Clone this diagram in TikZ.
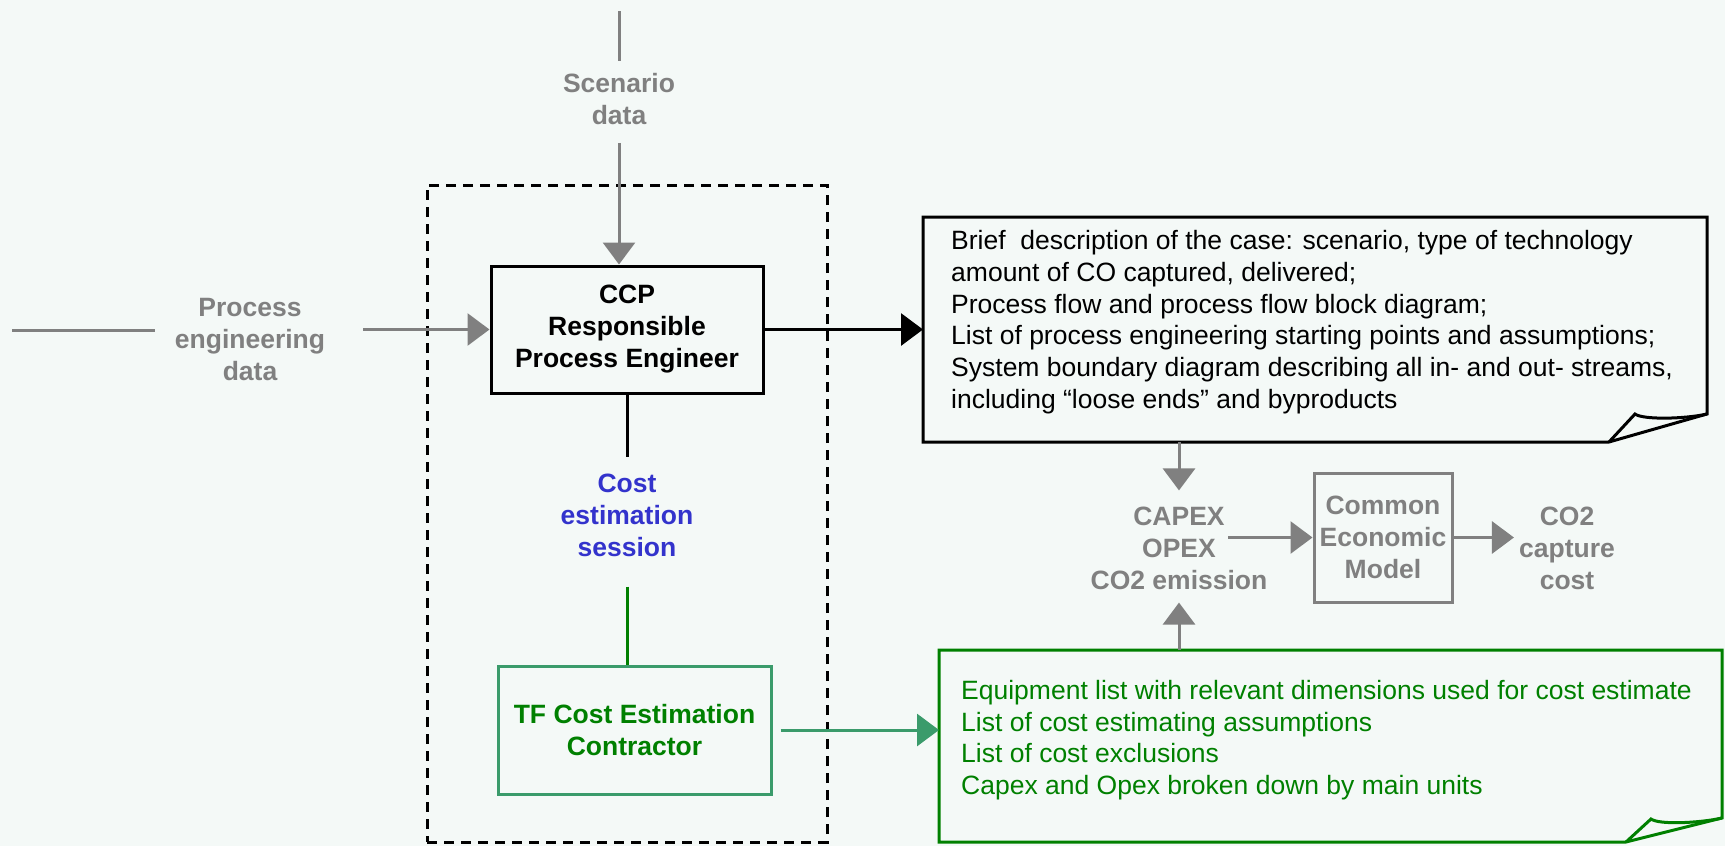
\documentclass[tikz,border=0pt]{standalone}
\usepackage{fontspec}
\setmainfont{Liberation Sans}
\usetikzlibrary{arrows.meta,calc}

\definecolor{bgmint}{HTML}{F4F9F7}
\definecolor{flowgray}{HTML}{808080}
\definecolor{sessionblue}{HTML}{3333CC}
\definecolor{darkgreen}{HTML}{008000}
\definecolor{seagreen}{HTML}{3A9B6B}

\begin{document}
\begin{tikzpicture}[x=1pt,y=-1pt,
  lbl/.style={font=\fontsize{26.5}{32}\selectfont\bfseries, align=center, inner sep=0pt},
  graylbl/.style={lbl, text=flowgray},
  blockbox/.style={lbl, draw, line width=3pt},
  grayline/.style={draw=flowgray, line width=3pt},
  tip/.style={-{Triangle[length=22pt,width=32pt]}},
  grayarrow/.style={grayline, tip},
  blackline/.style={draw=black, line width=3pt},
  greenline/.style={draw=darkgreen, line width=3pt},
  greenarrow/.style={draw=seagreen, line width=3pt, tip},
  noteframe/.style={draw=none, inner sep=0pt, outer sep=0pt},
  noteline/.style={line width=3pt, line join=miter},
  notetext/.style={font=\fontsize{26.5}{31.7}\selectfont, align=left, inner sep=0pt, anchor=west},
]
% canvas
\path[use as bounding box, fill=bgmint] (0,0) rectangle (1725,846);

% team frame
\node[draw, line width=3pt, dash pattern=on 10pt off 7pt, minimum width=400, minimum height=657, inner sep=0pt] (team) at (627,513.5) {};

% main blocks
\node[blockbox, minimum width=272, minimum height=127] (ccp) at (627,329.5) {CCP\\Responsible\\Process Engineer};
\node[blockbox, draw=seagreen, text=darkgreen, minimum width=273, minimum height=128] (tf) at (634.5,730) {TF Cost Estimation\\Contractor};
\node[blockbox, draw=flowgray, text=flowgray, minimum width=138, minimum height=129] (cem) at (1383,537.5) {Common\\Economic\\Model};

% free labels
\node[graylbl] (scen) at (619,99) {Scenario\\data};
\node[graylbl] (ped) at (250,340) {Process\\engineering\\data};
\node[lbl, text=sessionblue] (sess) at (627,515) {Cost\\estimation\\session};
\node[graylbl] (capex) at (1179,548) {CAPEX\\OPEX\\CO2 emission};
\node[graylbl] (co2) at (1567,548) {CO2\\capture\\cost};

% deliverable notes
\node[noteframe, minimum width=784, minimum height=225] (n1) at (1315,329.5) {};
\draw[noteline] (n1.north west) -- (n1.north east) -- ($(n1.south east)+(0,-28)$) coordinate (n1r)
  -- ($(n1.south east)+(-98,0)$) coordinate (n1b) -- (n1.south west) -- cycle;
\draw[noteline] (n1b) -- ($(n1.south east)+(-72,-28)$) coordinate (n1t)
  .. controls ($(n1t)+(8,6)$) and ($(n1r)+(-22,5)$) .. (n1r);
\node[notetext] (n1text) at (951,322) {Brief\ \ description of the case: scenario, type of technology\\
amount of CO captured, delivered;\\
Process flow and process flow block diagram;\\
List of process engineering starting points and assumptions;\\
System boundary diagram describing all in- and out- streams,\\
including “loose ends” and byproducts};

\node[noteframe, minimum width=783, minimum height=192] (n2) at (1330.5,746) {};
\draw[noteline, darkgreen] (n2.north west) -- (n2.north east) -- ($(n2.south east)+(0,-24)$) coordinate (n2r)
  -- ($(n2.south east)+(-96,0)$) coordinate (n2b) -- (n2.south west) -- cycle;
\draw[noteline, darkgreen] (n2b) -- ($(n2.south east)+(-71,-23)$) coordinate (n2t)
  .. controls ($(n2t)+(8,6)$) and ($(n2r)+(-22,5)$) .. (n2r);
\node[notetext, text=darkgreen] (n2text) at (961,740) {Equipment list with relevant dimensions used for cost estimate\\
List of cost estimating assumptions\\
List of cost exclusions\\
Capex and Opex broken down by main units};

% connectors
\coordinate (scenin) at (619,11);
\draw[grayline, shorten >=12pt] (scenin) -- (scen.north);
\draw[grayarrow, shorten <=18pt] (scen.south) -- (scen.south |- ccp.north);

\coordinate (pedin) at (12,330);
\draw[grayline, shorten >=20pt] (pedin) -- (pedin -| ped.west);
\draw[grayarrow, shorten <=38pt] (ped.east |- ccp.west) -- (ccp.west);

\draw[blackline, -{Triangle[length=22pt,width=32pt]}] (ccp.east) -- (ccp.east -| n1.west);
\draw[blackline, shorten >=16pt] (ccp.south) -- (sess.north);
\draw[greenline, shorten <=30pt] (sess.south) -- (sess.south |- tf.north);
\draw[greenarrow, shorten <=8pt] (tf.east) -- (tf.east -| n2.west);

\draw[grayarrow, shorten >=16pt] (capex.north |- n1.south) -- (capex.north);
\draw[grayarrow, shorten >=13pt] (capex.south |- n2.north) -- (capex.south);
\draw[grayarrow, shorten <=49pt] (capex.center |- cem.west) -- (cem.west);
\draw[grayarrow, shorten >=5pt] (cem.east) -- (cem.east -| co2.west);
\end{tikzpicture}
\end{document}
